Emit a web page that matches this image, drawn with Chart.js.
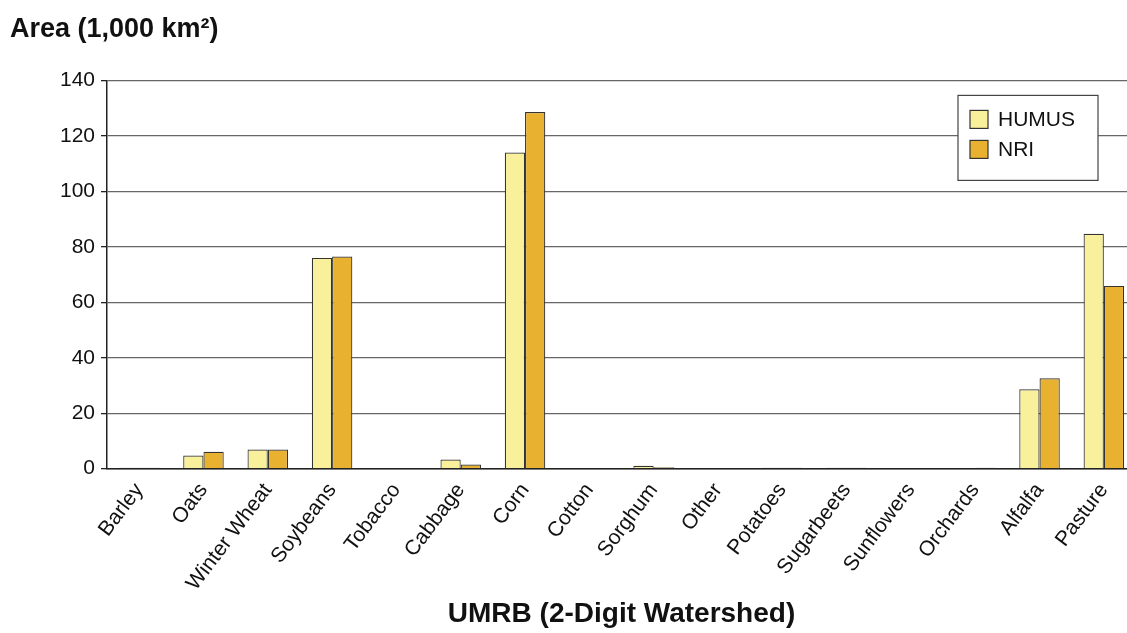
<!DOCTYPE html>
<html>
<head>
<meta charset="utf-8">
<script src="https://cdn.jsdelivr.net/npm/chart.js@4"></script>
<style>
  body { margin: 0; background: #fff; overflow: hidden; }
</style>
</head>
<body>
<canvas id="cropChart" width="1136" height="633"></canvas>
<script>
// Crop area per land use, UMRB
var crops = ['Barley', 'Oats', 'Winter Wheat', 'Soybeans', 'Tobacco', 'Cabbage', 'Corn', 'Cotton',
    'Sorghum', 'Other', 'Potatoes', 'Sugarbeets', 'Sunflowers', 'Orchards', 'Alfalfa', 'Pasture'];
var humus = [0.3, 4.7, 6.9, 76.0, 0, 3.3, 114.0, 0, 1.0, 0, 0.3, 0.3, 0, 0, 28.6, 84.7];
var nri = [0.3, 6.1, 6.9, 76.5, 0, 1.5, 128.6, 0, 0.5, 0, 0.3, 0.3, 0, 0.3, 32.6, 65.9];
var yTicks = [0, 20, 40, 60, 80, 100, 120, 140];

var humusColor = '#f9f09c';
var nriColor = '#e9b130';

// legend box drawn inside the plot, top right
var boxLegend = {
    id: 'boxLegend',
    afterDatasetsDraw: function (chart) {
        var ctx = chart.ctx;
        var area = chart.chartArea;
        var x = 958, y = area.top + 15, w = 140, h = 85;
        ctx.save();
        ctx.fillStyle = '#fff';
        ctx.strokeStyle = '#444';
        ctx.lineWidth = 1.2;
        ctx.fillRect(x, y, w, h);
        ctx.strokeRect(x, y, w, h);
        var items = [['HUMUS', humusColor], ['NRI', nriColor]];
        ctx.font = '21px "Liberation Sans", Arial, sans-serif';
        ctx.textBaseline = 'middle';
        items.forEach(function (it, i) {
            var sy = y + 15 + i * 30;
            ctx.fillStyle = it[1];
            ctx.fillRect(x + 12, sy, 18, 18);
            ctx.strokeStyle = '#333';
            ctx.strokeRect(x + 12, sy, 18, 18);
            ctx.fillStyle = '#111';
            ctx.fillText(it[0], x + 40, sy + 10);
        });
        ctx.restore();
    }
};

var ctxCrop = document.getElementById('cropChart').getContext('2d');
var cropChart = new Chart(ctxCrop, {
    type: 'bar',
    data: {
        labels: crops,
        datasets: [{
            label: 'HUMUS',
            data: humus,
            backgroundColor: humusColor,
            borderColor: '#333',
            borderWidth: 1.2
        }, {
            label: 'NRI',
            data: nri,
            backgroundColor: nriColor,
            borderColor: '#333',
            borderWidth: 1.2
        }]
    },
    options: {
        responsive: false,
        animation: false,
        layout: { padding: { left: 10, right: 0, top: 0, bottom: 0 } },
        datasets: {
            bar: { categoryPercentage: 0.63, barPercentage: 1.0 }
        },
        plugins: {
            legend: { display: false },
            tooltip: { enabled: false },
            title: {
                display: true,
                text: 'Area (1,000 km²)',
                align: 'start',
                color: '#111',
                font: { family: '"Liberation Sans", Arial, sans-serif', size: 27, weight: 'bold' },
                padding: { top: 13, bottom: 35 }
            }
        },
        scales: {
            x: {
                grid: { display: false },
                border: { display: true, color: '#222', width: 1.5 },
                ticks: {
                    color: '#111',
                    maxRotation: 53,
                    minRotation: 53,
                    autoSkip: false,
                    padding: 2,
                    font: { family: '"Liberation Sans", Arial, sans-serif', size: 21 }
                },
                title: {
                    display: true,
                    text: 'UMRB (2-Digit Watershed)',
                    color: '#111',
                    font: { family: '"Liberation Sans", Arial, sans-serif', size: 28, weight: 'bold' },
                    padding: { top: 0, bottom: 2 }
                }
            },
            y: {
                min: 0,
                max: 140,
                afterBuildTicks: function (axis) {
                    axis.ticks = yTicks.map(function (v) { return { value: v }; });
                },
                afterFit: function (axis) { axis.width = 97; },
                grid: { color: '#666', lineWidth: 1.3, tickLength: 6, tickColor: '#222' },
                border: { display: true, color: '#222', width: 1.5 },
                ticks: {
                    color: '#111',
                    padding: 6,
                    font: { family: '"Liberation Sans", Arial, sans-serif', size: 21 }
                }
            }
        }
    },
    plugins: [boxLegend]
});
</script>
</body>
</html>
